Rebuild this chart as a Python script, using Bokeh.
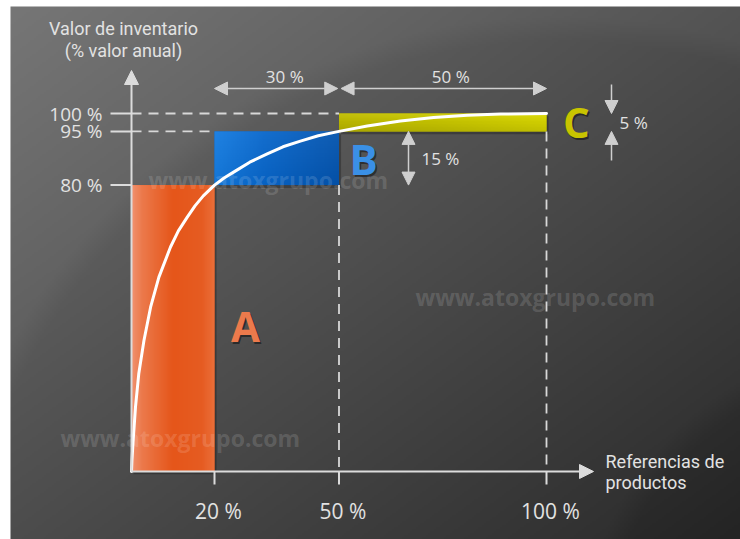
import numpy as np
from bokeh.plotting import figure
from bokeh.models import Range1d, Arrow, NormalHead
from bokeh.core.properties import value
from bokeh.embed import file_html
from bokeh.resources import INLINE

# ---------------- data ----------------
classes = ["A", "B", "C"]
ref_start = [0, 20, 50]          # % of product references
ref_end = [20, 50, 100]
val_low = [0, 80, 95]            # % of annual inventory value
val_high = [80, 95, 100]
curve_x = [0, 0.1, 0.4, 0.96, 1.76, 3.0, 4.6, 6.6, 9.4, 11.3, 13.4, 15.3, 17.3, 20,
           22.3, 24.7, 28.5, 32.7, 36.5, 40.7, 45, 50, 56.8, 64.8, 72.8, 80.9, 89, 100]
curve_y = [0, 3, 8.7, 18, 27.4, 36.6, 45.9, 54.3, 62.7, 67.2, 71, 74.2, 77, 80,
           82, 83.7, 86.4, 88.7, 90.7, 92.3, 93.8, 95, 96.5, 97.9, 98.9, 99.5, 99.85, 100]
x_ticks = [20, 50, 100]
x_tick_labels = ["20 %", "50 %", "100 %"]
y_ticks = [80, 95, 100]
y_tick_labels = ["80 %", "95 %", "100 %"]
width_labels = ["30 %", "50 %"]
height_labels = ["15 %", "5 %"]
y_title = ["Valor de inventario", "(% valor anual)"]
x_title = ["Referencias de", "productos"]
watermark = "www.atoxgrupo.com"

# ---------------- layout ----------------
W, H = 740, 539
X0, Y0 = 131, 471
SX, SY = 4.15, 3.58


def dx(px):
    return (px - X0) / SX


def dy(py):
    return (Y0 - py) / SY


p = figure(width=W, height=H, x_range=Range1d(dx(0), dx(W)), y_range=Range1d(dy(H), dy(0)),
           x_axis_type=None, y_axis_type=None, toolbar_location=None, output_backend="svg",
           min_border=0, outline_line_color=None, background_fill_color="white",
           border_fill_color="white")
p.grid.visible = False


def hex2rgb(h):
    h = h.lstrip("#")
    return np.array([int(h[i:i + 2], 16) for i in (0, 2, 4)], dtype=float)


def to_img(rgb):
    hh, ww = rgb.shape[:2]
    out = np.zeros((hh, ww, 4), dtype=np.uint8)
    out[..., :3] = np.clip(rgb, 0, 255).astype(np.uint8)
    out[..., 3] = 255
    return out[::-1].copy().view(np.uint32).reshape(hh, ww)


def hgrad(stops, ncol=96, nrow=24, vshade=0.0):
    t = np.linspace(0, 1, ncol)
    pos = [s[0] for s in stops]
    cols = np.array([hex2rgb(s[1]) for s in stops])
    row = np.stack([np.interp(t, pos, cols[:, k]) for k in range(3)], axis=-1)
    rgb = np.repeat(row[None, :, :], nrow, axis=0)
    if vshade:
        sh = np.linspace(vshade, -vshade, nrow)[:, None, None]
        rgb = rgb + sh
    return to_img(rgb)


# background
bw, bh = 365, 267
xs = np.linspace(10, 740, bw)
ys = np.linspace(6, 539, bh)
PX, PY = np.meshgrid(xs, ys)
v = 112 - 70 * (PX / 740 + PY / 539) / 2
d1 = np.hypot(PX - 560, PY - 640)
v = v + 7 * np.clip((d1 - 600) / 25, 0, 1)
d2 = np.hypot(PX - 900, PY - 660)
v = v - 6 * np.clip((320 - d2) / 25, 0, 1)
bg = to_img(np.stack([v, v, v], axis=-1))
p.image_rgba(image=[bg], x=dx(10), y=dy(H), dw=(W - 10) / SX, dh=(H - 6) / SY)

# bar shadows
p.quad(left=[s + 0.5 for s in ref_start], right=[e + 0.5 for e in ref_end],
       bottom=[l - 0.8 for l in val_low], top=[h - 0.8 for h in val_high],
       fill_color="black", fill_alpha=0.25, line_color=None)

# bars
bar_colors = ["#e65a1e", "#0e66c6", "#c4c200"]
p.quad(left=ref_start, right=ref_end, bottom=val_low, top=val_high,
       fill_color=bar_colors, line_color=None)
grads = [
    hgrad([(0, "#f19270"), (0.12, "#ec7a4c"), (0.5, "#e5561a"), (0.85, "#e65c22"), (1, "#eb6e38")]),
    hgrad([(0, "#1a7cdc"), (0.4, "#0e68c8"), (1, "#0a56ac")], vshade=6),
    hgrad([(0, "#b8b400"), (0.5, "#c2c000"), (1, "#d0ce00")], vshade=14),
]
for i in range(3):
    p.image_rgba(image=[grads[i]], x=ref_start[i], y=val_low[i],
                 dw=ref_end[i] - ref_start[i], dh=val_high[i] - val_low[i])

# watermarks
p.text(x=[dx(148), dx(415), dx(60)], y=[dy(179), dy(296), dy(437)], text=[watermark] * 3,
       text_font=value("Open Sans"), text_font_style="bold", text_font_size="23px",
       text_color="white", text_alpha=0.14, text_baseline="middle", text_align="left")

# dashed guide lines
DASH = "#d8d8d8"
p.segment(x0=[0, 0], y0=[val_high[2], val_high[1]], x1=[ref_start[2], ref_start[1]],
          y1=[val_high[2], val_high[1]], line_color=DASH, line_width=1.8, line_dash="10 7")
p.segment(x0=[ref_end[1], ref_end[2]], y0=[val_low[1], val_low[2]], x1=[ref_end[1], ref_end[2]],
          y1=[0, 0], line_color=DASH, line_width=1.8, line_dash="10 7")

# ticks
AX = "#dcdcdc"
p.segment(x0=[dx(110)] * 3, y0=y_ticks, x1=[0] * 3, y1=y_ticks, line_color=AX, line_width=2)
p.segment(x0=x_ticks, y0=[0] * 3, x1=x_ticks, y1=[dy(484)] * 3, line_color=AX, line_width=2)

# axes with arrows
p.add_layout(Arrow(end=NormalHead(size=14, fill_color=AX, line_color=AX), x_start=0, y_start=0,
                   x_end=dx(593), y_end=0, line_color=AX, line_width=2))
p.add_layout(Arrow(end=NormalHead(size=14, fill_color=AX, line_color=AX), x_start=0, y_start=0,
                   x_end=0, y_end=dy(70), line_color=AX, line_width=2))

# curve
p.line(curve_x, curve_y, line_color="white", line_width=3, line_cap="round", line_join="round")

# dimension arrows
AR = "#cfcfcf"
HS = 13
ya = dy(88)


def head():
    return NormalHead(size=HS, fill_color=AR, line_color=AR)


p.add_layout(Arrow(start=head(), end=head(), x_start=ref_start[1], y_start=ya,
                   x_end=ref_end[1] - 0.3, y_end=ya, line_color=AR, line_width=1.5))
p.add_layout(Arrow(start=head(), end=head(), x_start=ref_start[2] + 0.5, y_start=ya,
                   x_end=ref_end[2], y_end=ya, line_color=AR, line_width=1.5))
xa15 = dx(408)
p.add_layout(Arrow(start=head(), end=head(), x_start=xa15, y_start=val_low[1],
                   x_end=xa15, y_end=val_high[1], line_color=AR, line_width=1.5))
xa5 = dx(611)
p.add_layout(Arrow(end=head(), x_start=xa5, y_start=dy(84), x_end=xa5, y_end=val_high[2],
                   line_color=AR, line_width=1.5))
p.add_layout(Arrow(end=head(), x_start=xa5, y_start=dy(160), x_end=xa5, y_end=val_low[2],
                   line_color=AR, line_width=1.5))

TXT = "#e2e2e2"
FONT = value("Open Sans")
NARROW = value("Roboto")

# tick labels
p.text(x=[0] * 3, y=y_ticks, text=y_tick_labels, x_offset=-29, text_align="right",
       text_baseline="middle", text_font=FONT, text_font_size="19px", text_color=TXT)
p.text(x=x_ticks, y=[0] * 3, text=x_tick_labels, x_offset=4, y_offset=39, text_align="center",
       text_baseline="middle", text_font=FONT, text_font_size="21px", text_color=TXT)

# dimension labels
p.text(x=[(ref_start[1] + ref_end[1]) / 2, (ref_start[2] + ref_end[2]) / 2], y=[ya, ya],
       text=width_labels, x_offset=8, y_offset=-12, text_align="center", text_baseline="middle",
       text_font=FONT, text_font_size="17px", text_color=TXT)
p.text(x=[dx(421), dx(619)], y=[(val_low[1] + val_high[1]) / 2, (val_low[2] + val_high[2]) / 2],
       text=height_labels, text_align="left", text_baseline="middle",
       text_font=FONT, text_font_size="17px", text_color=TXT)

# axis titles
p.text(x=[dx(123)] * 2, y=[dy(28), dy(50)], text=y_title, text_align="center",
       text_baseline="middle", text_font=NARROW, text_font_size="18px", text_color=TXT)
p.text(x=[dx(605)] * 2, y=[dy(461), dy(482)], text=x_title, text_align="left",
       text_baseline="middle", text_font=NARROW, text_font_size="18px", text_color=TXT)

# class letters
letter_x = [dx(245), dx(363), dx(576)]
letter_y = [dy(325), dy(158), dy(121)]
letter_colors = ["#ec7a4c", "#3a90e6", "#c8c400"]
p.text(x=letter_x, y=letter_y, text=classes, x_offset=1.5, y_offset=2, text_align="center",
       text_baseline="middle", text_font=FONT, text_font_style="bold", text_font_size="42px",
       text_color="black", text_alpha=0.45)
p.text(x=letter_x, y=letter_y, text=classes, text_align="center", text_baseline="middle",
       text_font=FONT, text_font_style="bold", text_font_size="42px", text_color=letter_colors)

open("out.html", "w").write(file_html(p, INLINE))
